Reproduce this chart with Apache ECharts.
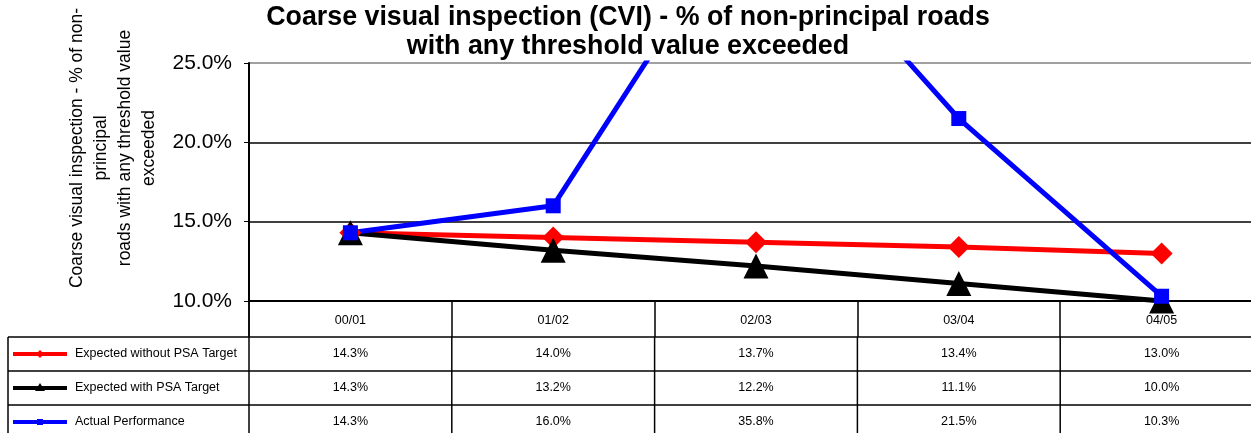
<!DOCTYPE html>
<html>
<head>
<meta charset="utf-8">
<script src="https://cdn.jsdelivr.net/npm/echarts@6/dist/echarts.min.js"></script>
<style>
  html, body { margin: 0; padding: 0; background: #fff; }
  #main { width: 1251px; height: 433px; }
</style>
</head>
<body>
<div id="main"></div>
<script>
// data (percent)
var years = ['00/01', '01/02', '02/03', '03/04', '04/05'];
var withoutPSA = [14.3, 14.0, 13.7, 13.4, 13.0];
var withPSA = [14.3, 13.2, 12.2, 11.1, 10.0];
var actual = [14.3, 16.0, 35.8, 21.5, 10.3];

var seriesInfo = [
  { name: 'Expected without PSA Target', color: '#ff0000', symbol: 'diamond', size: 22, data: withoutPSA },
  { name: 'Expected with PSA Target', color: '#000000', symbol: 'triangle', size: 25, data: withPSA },
  { name: 'Actual Performance', color: '#0000ff', symbol: 'rect', size: 15, data: actual }
];

var dom = document.getElementById('main');
var myChart = echarts.init(dom);
var font = 'Liberation Sans, Arial, sans-serif';

var option = {
  animation: false,
  textStyle: { fontFamily: font },
  title: {
    text: 'Coarse visual inspection (CVI) - % of non-principal roads\nwith any threshold value exceeded',
    left: 623,
    textAlign: 'center',
    top: -2,
    textStyle: { fontSize: 26.8, fontWeight: 'bold', color: '#000', lineHeight: 29, fontFamily: font }
  },
  grid: { left: 249, top: 63, right: -12, height: 238, outerBoundsMode: 'none' },
  xAxis: {
    type: 'category',
    data: years,
    boundaryGap: true,
    axisLine: { lineStyle: { color: '#000', width: 2 } },
    axisTick: { show: true, length: 36, interval: 0, lineStyle: { color: '#000', width: 1.5 } },
    axisLabel: { color: '#000', fontSize: 12.5, margin: 13 }
  },
  yAxis: {
    type: 'value',
    min: 10,
    max: 25,
    interval: 5,
    name: 'Coarse visual inspection - % of non-\nprincipal\nroads with any threshold value\nexceeded',
    nameLocation: 'middle',
    nameGap: 88,
    nameRotate: 90,
    nameTextStyle: { fontSize: 17.5, color: '#000', lineHeight: 24, padding: [0, 0, 0, 68] },
    axisLine: { show: true, lineStyle: { color: '#000', width: 2 } },
    axisTick: { show: true, length: 5, lineStyle: { color: '#000' } },
    axisLabel: {
      color: '#000', fontSize: 21, margin: 17,
      formatter: function (v) { return v.toFixed(1) + '%'; }
    },
    splitLine: { lineStyle: { color: ['#000', '#000', '#000', '#808080'], width: 1.5 } }
  },
  series: seriesInfo.map(function (s) {
    return {
      name: s.name,
      type: 'line',
      data: s.data,
      clip: true,
      symbol: s.symbol,
      symbolSize: s.size,
      showAllSymbol: true,
      itemStyle: { color: s.color },
      lineStyle: { color: s.color, width: 5 }
    };
  })
};
myChart.setOption(option);

// data table under the plot, placed from the axis scale
function buildTable() {
  var g = [];
  var half = (myChart.convertToPixel({ xAxisIndex: 0 }, years[1]) - myChart.convertToPixel({ xAxisIndex: 0 }, years[0])) / 2;
  var axisY = myChart.convertToPixel({ yAxisIndex: 0 }, 10);
  var rowH = 34;
  var top = axisY + 36;
  var x0 = 8;
  var x1 = 1251;
  var line = function (ax, ay, bx, by) {
    g.push({ type: 'line', shape: { x1: ax, y1: ay, x2: bx, y2: by }, style: { stroke: '#000', lineWidth: 1.5 }, silent: true });
  };
  for (var r = 0; r < 3; r++) line(x0, top + r * rowH, x1, top + r * rowH);
  line(x0, top, x0, 440);
  var left = myChart.convertToPixel({ xAxisIndex: 0 }, years[0]) - half;
  line(left, axisY, left, 440);
  years.forEach(function (y) {
    var cx = myChart.convertToPixel({ xAxisIndex: 0 }, y);
    line(cx + half, top, cx + half, 440);
  });
  seriesInfo.forEach(function (s, r) {
    var cy = top + r * rowH + rowH / 2;
    g.push({ type: 'line', shape: { x1: 13, y1: cy, x2: 67, y2: cy }, style: { stroke: s.color, lineWidth: 4 }, silent: true });
    var mk = s.symbol === 'diamond' ? { type: 'polygon', shape: { points: [[40, cy - 4], [44, cy], [40, cy + 4], [36, cy]] } }
      : s.symbol === 'triangle' ? { type: 'polygon', shape: { points: [[40, cy - 5], [45, cy + 3], [35, cy + 3]] } }
      : { type: 'rect', shape: { x: 37, y: cy - 3, width: 6, height: 6 } };
    mk.style = { fill: s.color };
    mk.silent = true;
    g.push(mk);
    g.push({ type: 'text', x: 75, y: cy, style: { text: s.name, fontSize: 12.5, fontFamily: font, fill: '#000', verticalAlign: 'middle' }, silent: true });
    s.data.forEach(function (v, i) {
      var cx = myChart.convertToPixel({ xAxisIndex: 0 }, years[i]);
      g.push({ type: 'text', x: cx, y: cy, style: { text: v.toFixed(1) + '%', fontSize: 12.5, fontFamily: font, fill: '#000', align: 'center', verticalAlign: 'middle' }, silent: true });
    });
  });
  myChart.setOption({ graphic: g });
}
buildTable();
</script>
</body>
</html>
